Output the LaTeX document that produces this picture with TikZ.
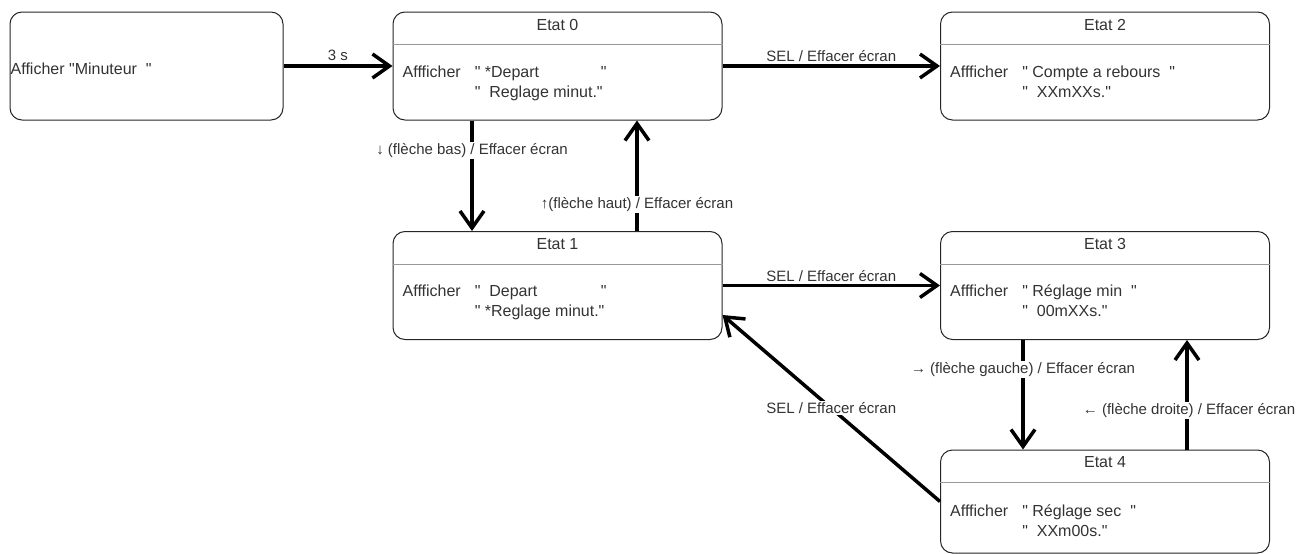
\documentclass[tikz,border=0pt]{standalone}
\usepackage{fontspec}
\setmainfont{Liberation Sans}[Ligatures=TeXOff]
\usetikzlibrary{arrows.meta}
\begin{document}
\begin{tikzpicture}[x=1pt,y=-1pt,
  statebox/.style={draw=black!85, line width=1pt, rounded corners=12pt, minimum width=329pt, minimum height=108pt, inner sep=0pt, fill=white},
  sep/.style={draw=black!40, line width=1pt},
  title/.style={font=\fontsize{16}{18}\selectfont, text=black!80, inner sep=0pt},
  body/.style={font=\fontsize{16}{20}\selectfont, text=black!80, inner sep=0pt, anchor=west},
  arr/.style={line width=3.5pt, -{Straight Barb[length=17pt,width=24pt]}},
  lbl/.style={font=\fontsize{15}{17}\selectfont, text=black!80, inner sep=1.5pt},
  wlbl/.style={lbl, fill=white}
]
\useasboundingbox (0,0) rectangle (1296,554);
% boxes
\node[statebox, minimum width=273pt] (init) at (146.5,66) {};
\node[statebox] (e0) at (557.5,66) {};
\node[statebox] (e2) at (1105,66) {};
\node[statebox] (e1) at (557.5,285.5) {};
\node[statebox] (e3) at (1105,285.5) {};
\node[statebox, minimum height=103pt] (e4) at (1105,501.5) {};
% separators
\foreach \n in {e0,e2,e1,e3,e4} {
  \draw[sep] ([yshift=-33pt]\n.north west) -- ([yshift=-33pt]\n.north east);
}
\node[title] (t0) at ([yshift=-13pt]e0.north) {Etat 0};
\node[title] (t1) at ([yshift=-13pt]e1.north) {Etat 1};
\node[title] (t2) at ([yshift=-13pt]e2.north) {Etat 2};
\node[title] (t3) at ([yshift=-13pt]e3.north) {Etat 3};
\node[title] (t4) at ([yshift=-13pt]e4.north) {Etat 4};
% texts
\node[body] (tinit) at ([xshift=1pt,yshift=-3pt]init.west) {Afficher "Minuteur\ \ "};
\node[body] (b0) at ([xshift=10pt,yshift=-17pt]e0.west) {\begin{tabular}{@{}l@{\hspace{14pt}}l@{}}Affficher & \makebox[126pt][l]{" *Depart}"\\ & "\ \ Reglage minut."\end{tabular}};
\node[body] (b1) at ([xshift=10pt,yshift=-17pt]e1.west) {\begin{tabular}{@{}l@{\hspace{14pt}}l@{}}Affficher & \makebox[126pt][l]{"\ \ Depart}"\\ & " *Reglage minut."\end{tabular}};
\node[body] (b2) at ([xshift=10pt,yshift=-17pt]e2.west) {\begin{tabular}{@{}l@{\hspace{14pt}}l@{}}Affficher & " Compte a rebours\ \ "\\ & "\ \ XXmXXs."\end{tabular}};
\node[body] (b3) at ([xshift=10pt,yshift=-17pt]e3.west) {\begin{tabular}{@{}l@{\hspace{14pt}}l@{}}Affficher & " Réglage min\ \ "\\ & "\ \ 00mXXs."\end{tabular}};
\node[body] (b4) at ([xshift=10pt,yshift=-20.5pt]e4.west) {\begin{tabular}{@{}l@{\hspace{14pt}}l@{}}Affficher & " Réglage sec\ \ "\\ & "\ \ XXm00s."\end{tabular}};
% arrows
\draw[arr] (init) -- (e0) node[lbl, pos=0.5, above, yshift=2pt] {3 s};
\draw[arr] (e0) -- (e2) node[lbl, midway, above, yshift=1pt] {SEL / Effacer écran};
\draw[arr] ([xshift=-85.5pt]e0.south) -- ([xshift=-85.5pt]e1.north) node[wlbl, pos=0.27] {↓ (flèche bas) / Effacer écran};
\draw[arr] ([xshift=79.5pt]e1.north) -- ([xshift=79.5pt]e0.south) node[wlbl, pos=0.24] {↑(flèche haut) / Effacer écran};
\draw[arr] (e1) -- (e3) node[lbl, midway, above, yshift=1pt] {SEL / Effacer écran};
\draw[arr] ([xshift=-82pt]e3.south) -- ([xshift=-82pt]e4.north) node[wlbl, pos=0.27] {→ (flèche gauche) / Effacer écran};
\draw[arr] ([xshift=82pt]e4.north) -- ([xshift=82pt]e3.south) node[wlbl, pos=0.36, xshift=2pt] {← (flèche droite) / Effacer écran};
\draw[arr] (e4.west) -- ([yshift=-29.5pt]e1.east) node[wlbl, pos=0.5] {SEL / Effacer écran};
\end{tikzpicture}
\end{document}
